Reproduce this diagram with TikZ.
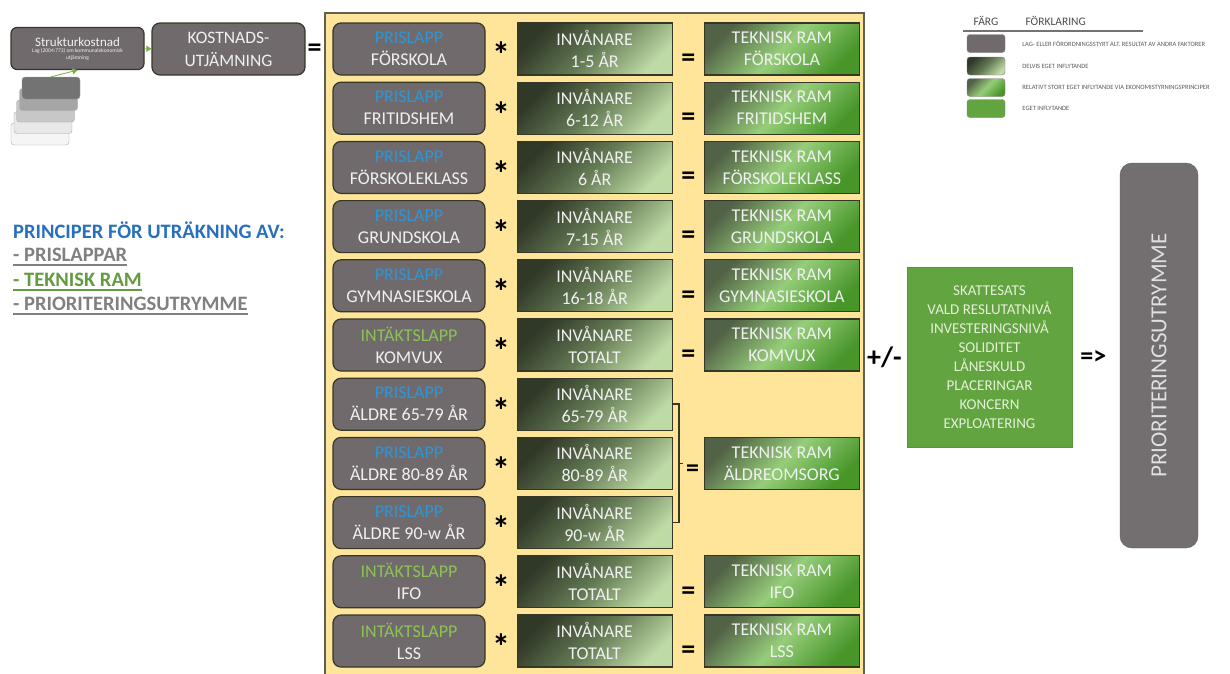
\documentclass[tikz,border=0pt]{standalone}
\usepackage{fontspec}
\setmainfont{Carlito}
\usepackage{xcolor}
\definecolor{lappgra}{RGB}{112,106,108}
\definecolor{kant}{RGB}{55,55,40}
\definecolor{panelgul}{RGB}{255,229,153}
\definecolor{prisbla}{RGB}{45,150,215}
\definecolor{intgron}{RGB}{140,195,85}
\definecolor{vittext}{RGB}{240,240,240}
\definecolor{invmork}{RGB}{48,56,40}
\definecolor{invmitt}{RGB}{100,122,84}
\definecolor{invljus}{RGB}{190,218,165}
\definecolor{rammork}{RGB}{82,98,70}
\definecolor{ramljus}{RGB}{150,205,122}
\definecolor{ramgron}{RGB}{72,150,42}
\definecolor{ovrgron}{RGB}{98,164,64}
\definecolor{priogra}{RGB}{115,110,111}
\definecolor{rubrikbla}{RGB}{40,112,190}
\definecolor{strykgra}{RGB}{128,128,128}
\definecolor{strykgron}{RGB}{100,155,65}
\definecolor{pilgron}{RGB}{110,180,70}
\usetikzlibrary{positioning, calc, arrows.meta}

\begin{document}
\begin{tikzpicture}[
  x=1pt, y=-1pt,
  lapp/.style={rectangle, rounded corners=8pt, draw=kant, line width=1.2pt, fill=lappgra,
               minimum width=152pt, minimum height=52pt, inner sep=0pt, align=center,
               text=vittext, font=\fontsize{18}{22}\selectfont},
  inv/.style={rectangle, draw=kant, line width=1.2pt, top color=invmork, bottom color=invljus,
              middle color=invmitt, shading angle=45, minimum width=155pt, minimum height=52pt,
              inner sep=0pt, align=center, text=vittext, font=\fontsize{18}{22}\selectfont},
  ramruta/.style={rectangle, draw=kant, line width=1.2pt, top color=rammork, bottom color=ramgron,
                  middle color=ramljus, shading angle=45, minimum width=155pt, minimum height=52pt,
                  inner sep=0pt, align=center, text=vittext, font=\fontsize{18}{22}\selectfont},
  op/.style={inner sep=0pt, font=\bfseries\fontsize{28}{28}\selectfont},
  stjarna/.style={inner sep=0pt, font=\bfseries\fontsize{36}{36}\selectfont},
  kort/.style={rectangle, rounded corners=3pt, draw=gray!70, minimum width=58pt, minimum height=22pt},
  gronpil/.style={-{Triangle[length=5pt,width=6pt]}, color=pilgron, line width=0.8pt},
  klammer/.style={draw=kant, line width=1.5pt},
  princip/.style={anchor=west, inner sep=0pt, text depth=0pt, font=\bfseries\fontsize{20.5}{22}\selectfont},
  understr/.style={line width=1.8pt},
  swatch/.style={rectangle, rounded corners=3pt, draw=gray, minimum width=38pt, minimum height=18pt},
  legtext/.style={anchor=west, inner sep=0pt, text=black!65, font=\fontsize{6.5}{7}\selectfont}
]
  \useasboundingbox (0,0) rectangle (1230,673);
  \fill[white] (0,0) rectangle (1230,673);

  % Gul panel
  \draw[fill=panelgul, draw=kant!80, line width=1.5pt] (325,13) rectangle (864,690);

  % Strukturkostnad och kortlek
  \node[kort, fill=black!4] (s5) at (40,134) {};
  \node[kort, fill=black!9] (s4) at (43,122.5) {};
  \node[kort, fill=black!22] (s3) at (45.5,111) {};
  \node[kort, fill=black!35] (s2) at (48.5,99.5) {};
  \node[kort, fill=black!55] (s1) at (51,88) {};
  \node[rectangle, rounded corners=6pt, draw=kant, line width=1.2pt, fill=lappgra,
        minimum width=133pt, minimum height=42pt, inner sep=0pt, align=center,
        text=vittext, font=\fontsize{5.5}{6.5}\selectfont] (sk) at (77.5,48.5)
        {{\fontsize{13}{15}\selectfont Strukturkostnad}\\Lag (2004:773) om kommunalekonomisk\\utjämning};
  \node[lapp, minimum width=153pt, font=\fontsize{17.5}{23}\selectfont] (ku) at (228.5,49) {KOSTNADS-\\UTJÄMNING};
  \draw[gronpil] (s1.north) -- (sk.south);
  \draw[gronpil] (sk) -- (ku);
  \node[op] (eq0) at ($(ku.east)+(9,1)$) {=};

  % Rader: prislapp * invånare
  \foreach \n/\typ/\tf/\namn/\alder in {1/PRISLAPP/prisbla/FÖRSKOLA/1-5 ÅR,
      2/PRISLAPP/prisbla/FRITIDSHEM/6-12 ÅR, 3/PRISLAPP/prisbla/FÖRSKOLEKLASS/6 ÅR,
      4/PRISLAPP/prisbla/GRUNDSKOLA/7-15 ÅR, 5/PRISLAPP/prisbla/GYMNASIESKOLA/16-18 ÅR,
      6/INTÄKTSLAPP/intgron/KOMVUX/TOTALT, 7/PRISLAPP/prisbla/ÄLDRE 65-79 ÅR/65-79 ÅR,
      8/PRISLAPP/prisbla/ÄLDRE 80-89 ÅR/80-89 ÅR, 9/PRISLAPP/prisbla/ÄLDRE 90-w ÅR/90-w ÅR,
      10/INTÄKTSLAPP/intgron/IFO/TOTALT, 11/INTÄKTSLAPP/intgron/LSS/TOTALT}
  {
    \node[lapp] (p\n) at (409, {49+59.2*(\n-1)}) {\textcolor{\tf}{\typ}\\\namn};
    \node[inv, right=31pt of p\n] (i\n) {INVÅNARE\\\alder};
    \node[stjarna] (m\n) at ($(p\n.east)!0.5!(i\n.west)+(0,6)$) {*};
  }

  % Tekniska ramar
  \foreach \n/\namn in {1/FÖRSKOLA, 2/FRITIDSHEM, 3/FÖRSKOLEKLASS, 4/GRUNDSKOLA,
      5/GYMNASIESKOLA, 6/KOMVUX, 10/IFO, 11/LSS}
  {
    \node[ramruta, right=31pt of i\n] (r\n) {TEKNISK RAM\\\namn};
    \node[op] (e\n) at ($(i\n.east)!0.5!(r\n.west)+(0,11)$) {=};
  }

  % Äldreomsorg
  \node[ramruta, right=31pt of i8] (r8) {TEKNISK RAM\\ÄLDREOMSORG};
  \draw[klammer] (i7.east) -- ++(6,0) |- (i9.east);
  \coordinate (k8) at ($(i8.east)+(6,0)$);
  \draw[klammer] (k8) -- ++(4,0);
  \node[op, font=\bfseries\fontsize{26}{26}\selectfont] (e8) at ($(k8)!0.55!(r8.west)+(0,7)$) {=};

  % Övriga faktorer och prioriteringsutrymme
  \node[rectangle, fill=ovrgron, draw=ovrgron!90!black, minimum width=165pt, minimum height=180pt,
        align=center, text={rgb,255:red,228;green,240;blue,215},
        font=\fontsize{15}{19}\selectfont] (ovr) at (989.5,357)
        {SKATTESATS\\VALD RESLUTATNIVÅ\\INVESTERINGSNIVÅ\\SOLIDITET\\LÅNESKULD\\PLACERINGAR\\KONCERN\\EXPLOATERING};
  \node[op, left=5pt of ovr] (pm) {+/-};
  \node[op, font=\bfseries\fontsize{26}{26}\selectfont, right=8pt of ovr] (pil) {=>};
  \node[rectangle, rounded corners=12pt, fill=priogra, draw=priogra!85!black, minimum width=78pt,
        minimum height=385pt, inner sep=0pt] (prio) at (1159,355.5) {};
  \node[rotate=90, text=black!12, font=\fontsize{23}{23}\selectfont] (priotext) at (prio.center) {PRIORITERINGSUTRYMME};

  % Principer
  \node[princip, text=rubrikbla] (h0) at (13,230) {PRINCIPER FÖR UTRÄKNING AV:};
  \node[princip, text=strykgra] (h1) at (13,255) {- PRISLAPPAR};
  \node[princip, text=strykgron] (h2) at (13,280) {- TEKNISK RAM};
  \node[princip, text=strykgra] (h3) at (13,304) {- PRIORITERINGSUTRYMME};
  \draw[understr, strykgra] ([yshift=-3pt]h1.base west) -- ([yshift=-3pt]h1.base east);
  \draw[understr, strykgron] ([yshift=-3pt]h2.base west) -- ([yshift=-3pt]h2.base east);
  \draw[understr, strykgra] ([yshift=-3pt]h3.base west) -- ([yshift=-3pt]h3.base east);

  % Förklaring
  \node[text=black!70, font=\fontsize{11.5}{12}\selectfont] (farg) at (986,21) {FÄRG};
  \node[anchor=west, text=black!70, font=\fontsize{11.5}{12}\selectfont] (forkl) at (1022,21) {FÖRKLARING};
  \draw[black!55, line width=1.2pt] (963,31) -- (1143,31);
  \node[swatch, fill=lappgra] (f1) at (986,43.5) {};
  \node[swatch, top color=invmork, bottom color=invljus, middle color=invmitt, shading angle=45] (f2) at (986,66) {};
  \node[swatch, top color=rammork, bottom color=ramgron, middle color=ramljus, shading angle=45] (f3) at (986,87.5) {};
  \node[swatch, fill=ovrgron] (f4) at (986,108.5) {};
  \node[legtext, right=17pt of f1] (t1) {LAG- ELLER FÖRORDNINGSSTYRT ALT. RESULTAT AV ANDRA FAKTORER};
  \node[legtext, right=17pt of f2] (t2) {DELVIS EGET INFLYTANDE};
  \node[legtext, right=17pt of f3] (t3) {RELATIVT STORT EGET INFLYTANDE VIA EKONOMISTYRNINGSPRINCIPER};
  \node[legtext, right=17pt of f4] (t4) {EGET INFLYTANDE};
\end{tikzpicture}
\end{document}
